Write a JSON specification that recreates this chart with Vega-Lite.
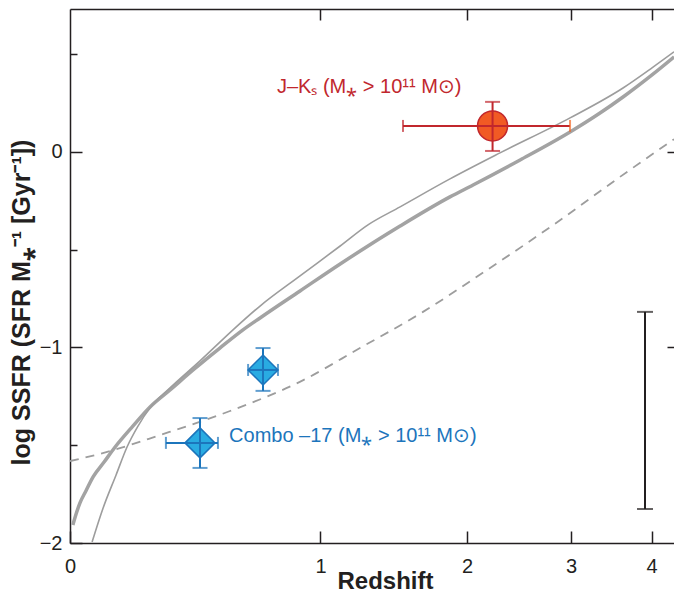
{
  "$schema": "https://vega.github.io/schema/vega-lite/v6.json",
  "width": 604,
  "height": 534,
  "autosize": "none",
  "padding": {"left": 70, "top": 9, "right": 0, "bottom": 49},
  "config": {
    "view": {"stroke": null},
    "font": "Liberation Sans",
    "axis": {
      "domainColor": "#231f20", "tickColor": "#231f20", "domainWidth": 1.5, "tickWidth": 1.5,
      "labelColor": "#231f20", "titleColor": "#231f20", "grid": false, "labelFlush": false,
      "labelFont": "Liberation Sans", "labelFontSize": 20,
      "titleFont": "Liberation Sans", "titleFontSize": 24, "titleFontWeight": "bold"
    }
  },
  "datasets": {
    "dashed": [
      {"z": 0, "v": -1.581}, {"z": 0.117, "v": -1.53}, {"z": 0.283, "v": -1.448}, {"z": 0.557, "v": -1.325},
      {"z": 0.889, "v": -1.176}, {"z": 1.231, "v": -1.003}, {"z": 1.656, "v": -0.818}, {"z": 2.17, "v": -0.604},
      {"z": 2.81, "v": -0.373}, {"z": 3.58, "v": -0.128}, {"z": 4.32, "v": 0.065}
    ],
    "thick": [
      {"z": 0.008, "v": -1.908}, {"z": 0.017, "v": -1.852}, {"z": 0.028, "v": -1.795}, {"z": 0.045, "v": -1.734},
      {"z": 0.066, "v": -1.662}, {"z": 0.099, "v": -1.586}, {"z": 0.133, "v": -1.509}, {"z": 0.19, "v": -1.402},
      {"z": 0.248, "v": -1.304}, {"z": 0.319, "v": -1.217}, {"z": 0.406, "v": -1.115}, {"z": 0.514, "v": -1.003},
      {"z": 0.614, "v": -0.91}, {"z": 0.692, "v": -0.849}, {"z": 0.89, "v": -0.711}, {"z": 1.112, "v": -0.573},
      {"z": 1.493, "v": -0.379}, {"z": 1.862, "v": -0.23}, {"z": 2.051, "v": -0.169}, {"z": 2.475, "v": -0.041},
      {"z": 2.99, "v": 0.102}, {"z": 3.335, "v": 0.199}, {"z": 3.62, "v": 0.281}, {"z": 4.006, "v": 0.394},
      {"z": 4.321, "v": 0.486}
    ],
    "thin": [
      {"z": 0.063, "v": -1.995}, {"z": 0.096, "v": -1.821}, {"z": 0.136, "v": -1.652}, {"z": 0.171, "v": -1.509},
      {"z": 0.207, "v": -1.402}, {"z": 0.248, "v": -1.309}, {"z": 0.319, "v": -1.207}, {"z": 0.433, "v": -1.069},
      {"z": 0.57, "v": -0.91}, {"z": 0.692, "v": -0.788}, {"z": 0.89, "v": -0.634}, {"z": 1.112, "v": -0.481},
      {"z": 1.281, "v": -0.373}, {"z": 1.493, "v": -0.281}, {"z": 1.862, "v": -0.138}, {"z": 2.287, "v": -0.005},
      {"z": 2.99, "v": 0.174}, {"z": 3.62, "v": 0.327}, {"z": 4.006, "v": 0.43}, {"z": 4.321, "v": 0.512}
    ],
    "points": [
      {"survey": "J–Ks", "z": 2.22, "v": 0.133, "zlo": 1.513, "zhi": 2.99, "vlo": 0.005, "vhi": 0.256},
      {"survey": "Combo-17", "z": 0.433, "v": -1.488, "zlo": 0.304, "zhi": 0.506, "vlo": -1.616, "vhi": -1.361},
      {"survey": "Combo-17", "z": 0.706, "v": -1.115, "zlo": 0.637, "zhi": 0.778, "vlo": -1.222, "vhi": -1.003}
    ],
    "typical": [
      {"z": 3.91, "vlo": -1.826, "vhi": -0.818}
    ],
    "labels": [
      {"survey": "J–Ks", "z": 0.773, "v": 0.333, "label": "J–Kₛ (M⁎ > 10¹¹ M⊙)"},
      {"survey": "Combo-17", "z": 0.553, "v": -1.453, "label": "Combo –17 (M⁎ > 10¹¹ M⊙)"}
    ]
  },
  "layer": [
    {
      "data": {"name": "dashed"},
      "mark": {"type": "line", "color": "#9d9d9d", "strokeWidth": 1.8, "strokeDash": [9, 7], "interpolate": "monotone"},
      "encoding": {
        "x": {"field": "z", "type": "quantitative",
          "scale": {"type": "symlog", "constant": 1, "domain": [0, 4.32], "nice": false},
          "axis": {"orient": "bottom", "values": [0, 1, 2, 3, 4], "format": "d", "tickSize": -12, "labelPadding": 25,
            "title": "Redshift", "titleX": 315, "titleY": 45, "titleBaseline": "alphabetic"}},
        "y": {"field": "v", "type": "quantitative",
          "scale": {"domain": [-2, 0.731], "nice": false, "zero": false},
          "axis": {"orient": "left", "values": [-2, -1, 0], "format": "d", "tickSize": -12, "labelPadding": 20,
            "title": "log SSFR (SFR M⁎⁻¹ [Gyr⁻¹])", "titleFontSize": 25, "titleX": -41, "titleY": 293, "titleBaseline": "alphabetic", "titleAngle": -90}}
      }
    },
    {
      "data": {"name": "thick"},
      "mark": {"type": "line", "color": "#a3a3a3", "strokeWidth": 3.5, "interpolate": "monotone", "strokeJoin": "round"},
      "encoding": {
        "x": {"field": "z", "type": "quantitative",
          "axis": {"orient": "top", "values": [1, 2, 3, 4], "tickSize": -11, "labels": false, "title": null, "domain": true}},
        "y": {"field": "v", "type": "quantitative",
          "axis": {"orient": "left", "values": [-1.5, -0.5, 0.5], "tickSize": -7, "labels": false, "title": null, "domain": false}}
      }
    },
    {
      "data": {"name": "thin"},
      "mark": {"type": "line", "color": "#9d9d9d", "strokeWidth": 1.6, "interpolate": "monotone", "strokeJoin": "round"},
      "encoding": {
        "x": {"field": "z", "type": "quantitative", "axis": null},
        "y": {"field": "v", "type": "quantitative",
          "axis": {"orient": "right", "values": [-1, 0], "tickSize": -7, "labels": false, "title": null, "domain": false}}
      }
    },
    {
      "data": {"name": "typical"},
      "mark": {"type": "rule", "color": "#231f20", "strokeWidth": 2},
      "encoding": {
        "x": {"field": "z", "type": "quantitative", "axis": null},
        "y": {"field": "vlo", "type": "quantitative", "axis": null},
        "y2": {"field": "vhi"}
      }
    },
    {
      "data": {"name": "typical"},
      "mark": {"type": "tick", "orient": "horizontal", "color": "#231f20", "size": 16, "thickness": 2},
      "encoding": {
        "x": {"field": "z", "type": "quantitative", "axis": null},
        "y": {"field": "vlo", "type": "quantitative", "axis": null}
      }
    },
    {
      "data": {"name": "typical"},
      "mark": {"type": "tick", "orient": "horizontal", "color": "#231f20", "size": 16, "thickness": 2},
      "encoding": {
        "x": {"field": "z", "type": "quantitative", "axis": null},
        "y": {"field": "vhi", "type": "quantitative", "axis": null}
      }
    },
    {
      "data": {"name": "points"},
      "mark": {"type": "point", "filled": true, "size": 900, "strokeWidth": 1.5, "opacity": 1},
      "encoding": {
        "x": {"field": "z", "type": "quantitative", "axis": null},
        "y": {"field": "v", "type": "quantitative", "axis": null},
        "shape": {"field": "survey", "type": "nominal", "scale": {"domain": ["J–Ks", "Combo-17"], "range": ["circle", "diamond"]}, "legend": null},
        "fill": {"field": "survey", "type": "nominal", "scale": {"domain": ["J–Ks", "Combo-17"], "range": ["#f15a24", "#29abe2"]}, "legend": null},
        "stroke": {"field": "survey", "type": "nominal", "scale": {"domain": ["J–Ks", "Combo-17"], "range": ["#c1272d", "#1c75bc"]}, "legend": null}
      }
    },
    {
      "data": {"name": "points"},
      "mark": {"type": "rule", "strokeWidth": 2},
      "encoding": {
        "x": {"field": "zlo", "type": "quantitative", "axis": null},
        "x2": {"field": "zhi"},
        "y": {"field": "v", "type": "quantitative", "axis": null},
        "color": {"field": "survey", "type": "nominal", "scale": {"domain": ["J–Ks", "Combo-17"], "range": ["#c1272d", "#1c75bc"]}, "legend": null}
      }
    },
    {
      "data": {"name": "points"},
      "mark": {"type": "rule", "strokeWidth": 2},
      "encoding": {
        "x": {"field": "z", "type": "quantitative", "axis": null},
        "y": {"field": "vlo", "type": "quantitative", "axis": null},
        "y2": {"field": "vhi"},
        "color": {"field": "survey", "type": "nominal", "legend": null}
      }
    },
    {
      "data": {"name": "points"},
      "mark": {"type": "tick", "orient": "vertical", "size": 12, "thickness": 2},
      "encoding": {
        "x": {"field": "zlo", "type": "quantitative", "axis": null},
        "y": {"field": "v", "type": "quantitative", "axis": null},
        "color": {"field": "survey", "type": "nominal", "legend": null}
      }
    },
    {
      "data": {"name": "points"},
      "transform": [{"filter": "datum.survey !== 'J–Ks'"}],
      "mark": {"type": "tick", "orient": "vertical", "size": 12, "thickness": 2},
      "encoding": {
        "x": {"field": "zhi", "type": "quantitative", "axis": null},
        "y": {"field": "v", "type": "quantitative", "axis": null},
        "color": {"field": "survey", "type": "nominal", "legend": null}
      }
    },
    {
      "data": {"name": "points"},
      "transform": [{"filter": "datum.survey === 'J–Ks'"}],
      "mark": {"type": "tick", "orient": "vertical", "size": 12, "thickness": 2, "color": "#f26522"},
      "encoding": {
        "x": {"field": "zhi", "type": "quantitative", "axis": null},
        "y": {"field": "v", "type": "quantitative", "axis": null}
      }
    },
    {
      "data": {"name": "points"},
      "mark": {"type": "tick", "orient": "horizontal", "size": 15, "thickness": 2},
      "encoding": {
        "x": {"field": "z", "type": "quantitative", "axis": null},
        "y": {"field": "vlo", "type": "quantitative", "axis": null},
        "color": {"field": "survey", "type": "nominal", "legend": null}
      }
    },
    {
      "data": {"name": "points"},
      "mark": {"type": "tick", "orient": "horizontal", "size": 15, "thickness": 2},
      "encoding": {
        "x": {"field": "z", "type": "quantitative", "axis": null},
        "y": {"field": "vhi", "type": "quantitative", "axis": null},
        "color": {"field": "survey", "type": "nominal", "legend": null}
      }
    },
    {
      "data": {"name": "labels"},
      "mark": {"type": "text", "align": "left", "baseline": "middle", "fontSize": 20, "font": "Liberation Sans"},
      "encoding": {
        "x": {"field": "z", "type": "quantitative", "axis": null},
        "y": {"field": "v", "type": "quantitative", "axis": null},
        "text": {"field": "label"},
        "color": {"field": "survey", "type": "nominal", "scale": {"domain": ["J–Ks", "Combo-17"], "range": ["#d2232a", "#1c75bc"]}, "legend": null}
      }
    }
  ],
  "resolve": {"axis": {"x": "independent", "y": "independent"}}
}
